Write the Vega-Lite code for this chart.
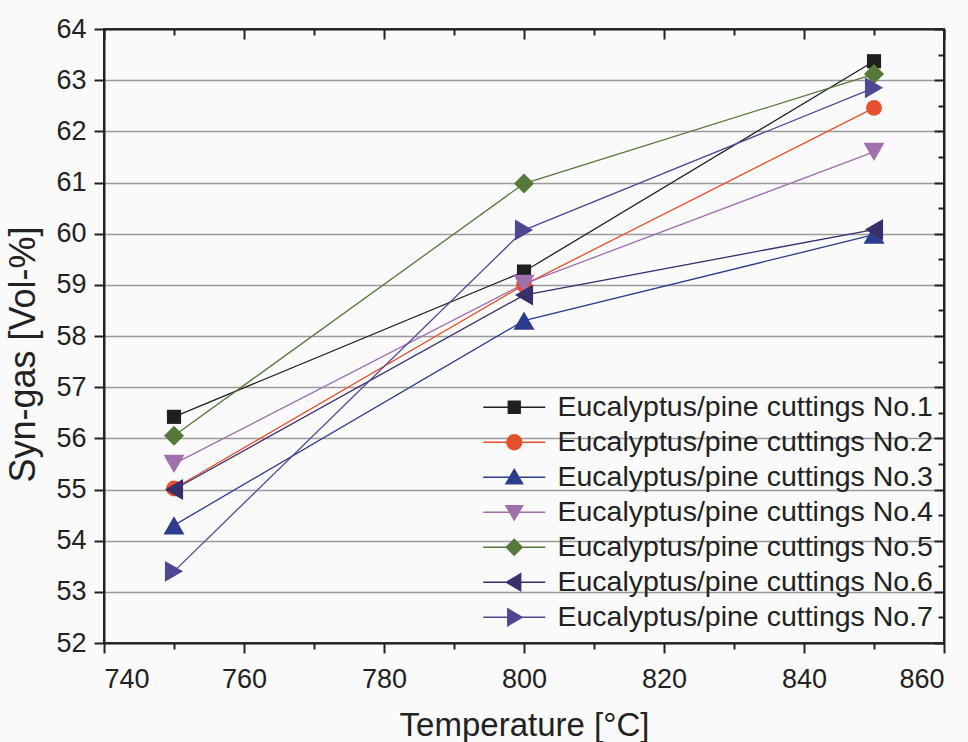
{
  "$schema": "https://vega.github.io/schema/vega-lite/v6.json",
  "width": 840,
  "height": 614,
  "autosize": "none",
  "padding": {"left": 104, "top": 29, "right": 24, "bottom": 99},
  "background": "#fafafa",
  "config": {
    "font": "Liberation Sans",
    "view": {"stroke": "#222222", "strokeWidth": 2, "fill": "#fafafa"},
    "axis": {"labelFont": "Liberation Sans", "titleFont": "Liberation Sans", "labelColor": "#222222", "titleColor": "#222222", "titleFontWeight": "normal", "domainColor": "#222222", "domainWidth": 2, "tickColor": "#222222", "tickWidth": 2},
    "legend": {"labelFont": "Liberation Sans", "labelFontSize": 28.5, "labelColor": "#222222", "labelLimit": 0, "title": null, "orient": "bottom-right", "offset": 11, "symbolSize": 100, "labelOffset": 29, "rowPadding": 6, "symbolOpacity": 1, "symbolStrokeWidth": 1.3}
  },
  "data": {
    "values": [
      {"series": "Eucalyptus/pine cuttings No.1", "T": 750, "v": 56.42},
      {"series": "Eucalyptus/pine cuttings No.1", "T": 800, "v": 59.26},
      {"series": "Eucalyptus/pine cuttings No.1", "T": 850, "v": 63.37},
      {"series": "Eucalyptus/pine cuttings No.2", "T": 750, "v": 55.02},
      {"series": "Eucalyptus/pine cuttings No.2", "T": 800, "v": 59.0},
      {"series": "Eucalyptus/pine cuttings No.2", "T": 850, "v": 62.46},
      {"series": "Eucalyptus/pine cuttings No.3", "T": 750, "v": 54.3},
      {"series": "Eucalyptus/pine cuttings No.3", "T": 800, "v": 58.3},
      {"series": "Eucalyptus/pine cuttings No.3", "T": 850, "v": 59.98},
      {"series": "Eucalyptus/pine cuttings No.4", "T": 750, "v": 55.5},
      {"series": "Eucalyptus/pine cuttings No.4", "T": 800, "v": 59.02},
      {"series": "Eucalyptus/pine cuttings No.4", "T": 850, "v": 61.6},
      {"series": "Eucalyptus/pine cuttings No.5", "T": 750, "v": 56.05},
      {"series": "Eucalyptus/pine cuttings No.5", "T": 800, "v": 60.98},
      {"series": "Eucalyptus/pine cuttings No.5", "T": 850, "v": 63.12},
      {"series": "Eucalyptus/pine cuttings No.6", "T": 750, "v": 55.0},
      {"series": "Eucalyptus/pine cuttings No.6", "T": 800, "v": 58.8},
      {"series": "Eucalyptus/pine cuttings No.6", "T": 850, "v": 60.08},
      {"series": "Eucalyptus/pine cuttings No.7", "T": 750, "v": 53.4},
      {"series": "Eucalyptus/pine cuttings No.7", "T": 800, "v": 60.07},
      {"series": "Eucalyptus/pine cuttings No.7", "T": 850, "v": 62.85}
    ]
  },
  "resolve": {
    "scale": {"shape": "independent"},
    "axis": {"x": "independent", "y": "independent"},
    "legend": {"color": "independent", "shape": "independent", "stroke": "independent", "size": "independent"}
  },
  "layer": [
    {
      "mark": {"type": "line", "strokeWidth": 1.3},
      "encoding": {
        "x": {"field": "T", "type": "quantitative", "scale": {"domain": [740, 860], "nice": false, "zero": false},
          "axis": {"orient": "bottom", "title": "Temperature [°C]", "titleFontSize": 33, "titlePadding": 17, "labelFontSize": 27, "labelPadding": 13, "grid": false, "format": "d",
            "values": [740, 750, 760, 770, 780, 790, 800, 810, 820, 830, 840, 850, 860],
            "labelExpr": "datum.value % 20 === 0 ? datum.label : ''",
            "tickSize": {"condition": {"test": "datum.value % 20 === 0", "value": 10}, "value": 6}}},
        "y": {"field": "v", "type": "quantitative", "scale": {"domain": [52, 64], "nice": false, "zero": false},
          "axis": {"orient": "left", "title": "Syn-gas [Vol-%]", "titleFontSize": 36, "titlePadding": 13, "titleY": 325, "labelFontSize": 27, "labelPadding": 8, "format": "d",
            "values": [52, 52.5, 53, 53.5, 54, 54.5, 55, 55.5, 56, 56.5, 57, 57.5, 58, 58.5, 59, 59.5, 60, 60.5, 61, 61.5, 62, 62.5, 63, 63.5, 64],
            "labelExpr": "datum.value % 1 === 0 ? datum.label : ''",
            "tickSize": {"condition": {"test": "datum.value % 1 === 0", "value": 10}, "value": 6},
            "grid": true,
            "gridColor": {"condition": {"test": "datum.value % 1 === 0", "value": "#9a9a9a"}, "value": "#c4c4c4"},
            "gridWidth": {"condition": {"test": "datum.value % 1 === 0", "value": 1.4}, "value": 1},
            "gridDash": {"condition": {"test": "datum.value % 1 === 0", "value": []}, "value": [2, 3]}}},
        "color": {"field": "series", "type": "nominal", "legend": null,
          "scale": {"domain": ["Eucalyptus/pine cuttings No.1", "Eucalyptus/pine cuttings No.2", "Eucalyptus/pine cuttings No.3", "Eucalyptus/pine cuttings No.4", "Eucalyptus/pine cuttings No.5", "Eucalyptus/pine cuttings No.6", "Eucalyptus/pine cuttings No.7"],
            "range": ["#1f1f1f", "#e5502e", "#2b3d8c", "#a06fae", "#56793a", "#3a2f6b", "#4e4796"]}}
      }
    },
    {
      "mark": {"type": "point", "filled": true, "opacity": 1},
      "encoding": {
        "x": {"field": "T", "type": "quantitative",
          "axis": {"orient": "top", "title": null, "labels": false, "grid": false,
            "values": [740, 750, 760, 770, 780, 790, 800, 810, 820, 830, 840, 850, 860],
            "tickSize": {"condition": {"test": "datum.value % 20 === 0", "value": -10}, "value": -6}}},
        "y": {"field": "v", "type": "quantitative",
          "axis": {"orient": "right", "title": null, "labels": false, "grid": false,
            "values": [52, 52.5, 53, 53.5, 54, 54.5, 55, 55.5, 56, 56.5, 57, 57.5, 58, 58.5, 59, 59.5, 60, 60.5, 61, 61.5, 62, 62.5, 63, 63.5, 64],
            "tickSize": {"condition": {"test": "datum.value % 1 === 0", "value": -10}, "value": -6}}},
        "color": {"field": "series", "type": "nominal", "legend": null},
        "shape": {"field": "series", "type": "nominal", "legend": null,
          "scale": {"domain": ["Eucalyptus/pine cuttings No.1", "Eucalyptus/pine cuttings No.2", "Eucalyptus/pine cuttings No.3", "Eucalyptus/pine cuttings No.4", "Eucalyptus/pine cuttings No.5", "Eucalyptus/pine cuttings No.6", "Eucalyptus/pine cuttings No.7"],
            "range": ["square", "circle", "triangle-up", "triangle-down", "diamond", "triangle-left", "triangle-right"]}},
        "size": {"field": "series", "type": "nominal", "legend": null,
          "scale": {"type": "ordinal", "domain": ["Eucalyptus/pine cuttings No.1", "Eucalyptus/pine cuttings No.2", "Eucalyptus/pine cuttings No.3", "Eucalyptus/pine cuttings No.4", "Eucalyptus/pine cuttings No.5", "Eucalyptus/pine cuttings No.6", "Eucalyptus/pine cuttings No.7"],
            "range": [200, 250, 440, 440, 400, 440, 440]}}
      }
    },
    {
      "mark": {"type": "point", "filled": true, "opacity": 0},
      "encoding": {
        "x": {"field": "T", "type": "quantitative", "axis": null},
        "y": {"field": "v", "type": "quantitative", "axis": null},
        "color": {"field": "series", "type": "nominal"},
        "stroke": {"field": "series", "type": "nominal",
          "scale": {"domain": ["Eucalyptus/pine cuttings No.1", "Eucalyptus/pine cuttings No.2", "Eucalyptus/pine cuttings No.3", "Eucalyptus/pine cuttings No.4", "Eucalyptus/pine cuttings No.5", "Eucalyptus/pine cuttings No.6", "Eucalyptus/pine cuttings No.7"],
            "range": ["#1f1f1f", "#e5502e", "#2b3d8c", "#a06fae", "#56793a", "#3a2f6b", "#4e4796"]}},
        "shape": {"field": "series", "type": "nominal",
          "scale": {"domain": ["Eucalyptus/pine cuttings No.1", "Eucalyptus/pine cuttings No.2", "Eucalyptus/pine cuttings No.3", "Eucalyptus/pine cuttings No.4", "Eucalyptus/pine cuttings No.5", "Eucalyptus/pine cuttings No.6", "Eucalyptus/pine cuttings No.7"],
            "range": ["M-6.2,0H6.2M-1.2,-1.2H1.2V1.2H-1.2Z", "M-6.2,0H6.2M-1.5,0A1.5,1.5 0 1,0 1.5,0A1.5,1.5 0 1,0 -1.5,0Z", "M-6.2,0H6.2M0,-1.6L1.7,1.3H-1.7Z", "M-6.2,0H6.2M0,1.6L1.7,-1.3H-1.7Z", "M-6.2,0H6.2M0,-1.6L1.6,0L0,1.6L-1.6,0Z", "M-6.2,0H6.2M-1.6,0L1.3,-1.7V1.7Z", "M-6.2,0H6.2M1.6,0L-1.3,-1.7V1.7Z"]}}
      }
    }
  ]
}
